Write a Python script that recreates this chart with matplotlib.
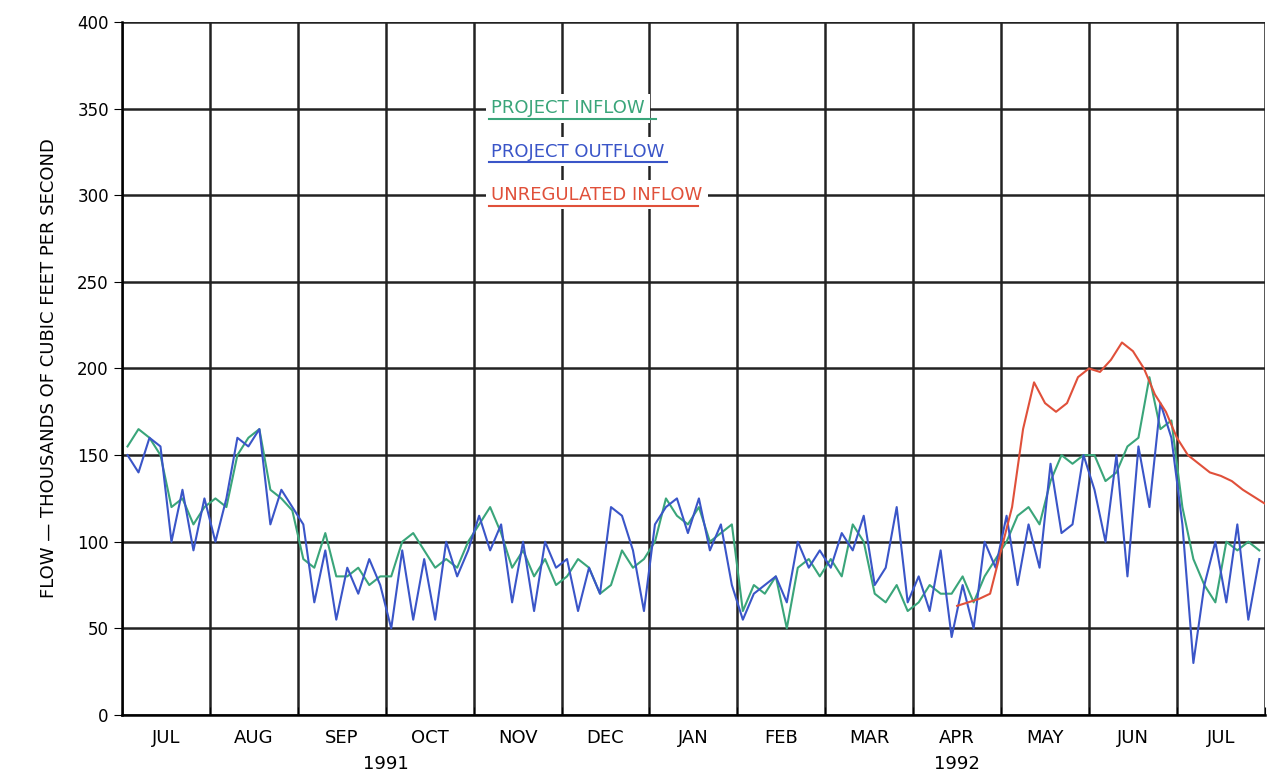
import numpy as np
import matplotlib.pyplot as plt

months = ['JUL', 'AUG', 'SEP', 'OCT', 'NOV', 'DEC', 'JAN', 'FEB', 'MAR', 'APR', 'MAY', 'JUN', 'JUL']

# flow, thousands of cfs, 8 readings per month (Jul 1991 - Jul 1992)
outflow = [150, 140, 160, 155, 100, 130, 95, 125,
           100, 125, 160, 155, 165, 110, 130, 120,
           110, 65, 95, 55, 85, 70, 90, 75,
           50, 95, 55, 90, 55, 100, 80, 95,
           115, 95, 110, 65, 100, 60, 100, 85,
           90, 60, 85, 70, 120, 115, 95, 60,
           110, 120, 125, 105, 125, 95, 110, 75,
           55, 70, 75, 80, 65, 100, 85, 95,
           85, 105, 95, 115, 75, 85, 120, 65,
           80, 60, 95, 45, 75, 50, 100, 85,
           115, 75, 110, 85, 145, 105, 110, 150,
           130, 100, 150, 80, 155, 120, 180, 160,
           110, 30, 75, 100, 65, 110, 55, 90]
inflow = [155, 165, 160, 150, 120, 125, 110, 120,
          125, 120, 150, 160, 165, 130, 125, 118,
          90, 85, 105, 80, 80, 85, 75, 80,
          80, 100, 105, 95, 85, 90, 85, 100,
          110, 120, 105, 85, 95, 80, 90, 75,
          80, 90, 85, 70, 75, 95, 85, 90,
          100, 125, 115, 110, 120, 100, 105, 110,
          60, 75, 70, 80, 50, 85, 90, 80,
          90, 80, 110, 100, 70, 65, 75, 60,
          65, 75, 70, 70, 80, 65, 80, 90,
          100, 115, 120, 110, 135, 150, 145, 150,
          150, 135, 140, 155, 160, 195, 165, 170,
          120, 90, 75, 65, 100, 95, 100, 95]
# unregulated inflow from mid April 1992
unreg = [63, 65, 67, 70,
         95, 120, 165, 192, 180, 175, 180, 195,
         200, 198, 205, 215, 210, 200, 185, 175,
         160, 150, 145, 140, 138, 135, 130, 126, 122]

x_proj = np.arange(len(outflow)) / 8 + 1 / 16
x_unreg = 9.5 + np.arange(len(unreg)) / 8

fig = plt.figure(figsize=(12.75, 7.82), dpi=100)
ax = fig.add_axes([0.0957, 0.0857, 0.8963, 0.8862])

ax.plot(x_proj, inflow, color='#3aa57a', lw=1.5)
ax.plot(x_proj, outflow, color='#3a55c8', lw=1.5)
ax.plot(x_unreg, unreg, color='#e0503a', lw=1.5)

ax.set_xlim(0, 13)
ax.set_ylim(0, 400)
ax.set_yticks(np.arange(0, 401, 50))
ax.set_xticks(np.arange(0, 14))
ax.set_xticklabels([])
ax.set_xticks(np.arange(13) + 0.5, minor=True)
ax.set_xticklabels(months, minor=True)
ax.tick_params(axis='x', which='minor', length=0, labelsize=13, pad=10)
ax.tick_params(axis='x', which='major', length=6, direction='in')
ax.tick_params(axis='y', labelsize=12, length=6, direction='out')
ax.grid(True, which='major', color='#222222', lw=1.8)
for s in ax.spines.values():
    s.set_visible(False)
ax.spines['left'].set_visible(True)
ax.spines['left'].set_linewidth(1.8)
ax.spines['bottom'].set_visible(True)
ax.spines['bottom'].set_linewidth(1.8)

ax.text(3, -23, '1991', ha='center', va='top', fontsize=13)
ax.text(9.5, -23, '1992', ha='center', va='top', fontsize=13)
ax.set_ylabel('FLOW \u2014 THOUSANDS OF CUBIC FEET PER SECOND', fontsize=13, labelpad=14)

legend = [('PROJECT INFLOW', '#3aa57a', 350),
          ('PROJECT OUTFLOW', '#3a55c8', 325),
          ('UNREGULATED INFLOW', '#e0503a', 300)]
for label, color, yv in legend:
    ax.text(4.2, yv - 5, label, color=color, fontsize=13, va='bottom', ha='left', zorder=4,
            bbox=dict(facecolor='white', edgecolor='none', pad=4))
for label, color, yv in legend:
    ax.plot([4.17, 4.17 + (0.26 + 0.128 * len(label)) * 0.93], [yv - 6, yv - 6],
            color=color, lw=1.5, zorder=5)

fig.savefig('out.png')
